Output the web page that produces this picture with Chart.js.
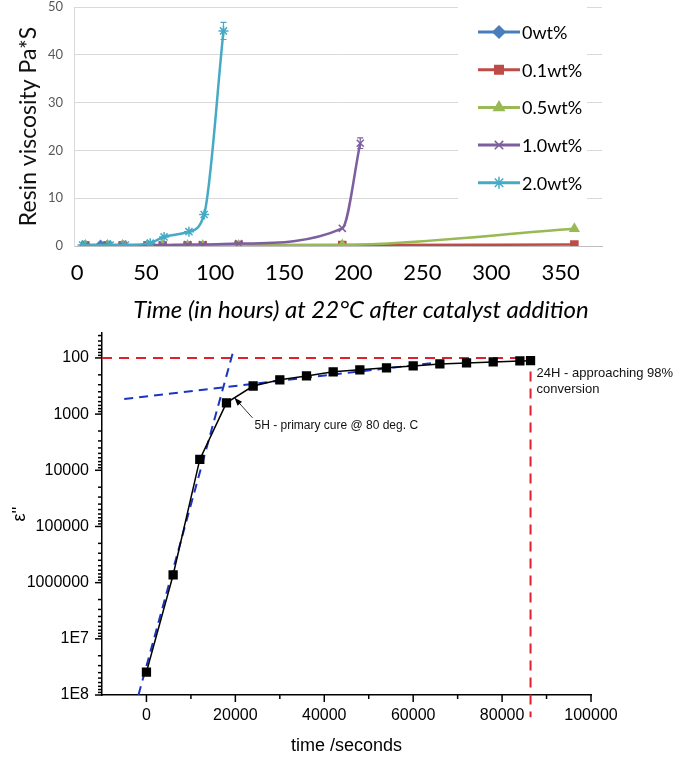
<!DOCTYPE html>
<html>
<head>
<meta charset="utf-8">
<script src="https://cdn.jsdelivr.net/npm/chart.js@4.4.0/dist/chart.umd.min.js"></script>
<style>
  body { margin: 0; background: #fff; }
  #wrap { position: relative; width: 675px; height: 757px; }
  canvas { position: absolute; left: 0; }
  #viscChart { top: 0; }
  #cureChart { top: 325px; }
</style>
</head>
<body>
<div id="wrap">
  <canvas id="viscChart" width="675" height="325"></canvas>
  <canvas id="cureChart" width="675" height="432"></canvas>
</div>
<script>
// ---- top chart: resin viscosity vs time ----
const seriesNames = ['0wt%', '0.1wt%', '0.5wt%', '1.0wt%', '2.0wt%'];
const seriesColors = ['#4a7ebb', '#be4b48', '#98b954', '#7d5fa0', '#46aac5'];
const seriesMarkers = ['rectRot', 'rect', 'triangle', 'crossRot', 'star'];

const hours0 = [6, 17, 22, 33, 51];
const visc0 = [0.1, 0.1, 0.1, 0.1, 0.1];
const hours01 = [6, 22, 33, 51, 62, 80, 91, 117, 192, 360];
const visc01 = [0.1, 0.1, 0.1, 0.1, 0.1, 0.1, 0.1, 0.2, 0.2, 0.3];
const hours05 = [6, 22, 33, 51, 62, 80, 91, 117, 192, 360];
const visc05 = [0.1, 0.1, 0.1, 0.1, 0.1, 0.1, 0.1, 0.1, 0.2, 3.6];
const hours10 = [6, 22, 33, 51, 62, 80, 91, 117, 192, 205];
const visc10 = [0.2, 0.2, 0.2, 0.2, 0.2, 0.3, 0.3, 0.5, 3.7, 21.5];
const err10 = [0, 0, 0, 0, 0, 0, 0, 0, 0, 1.1];
const hours20 = [4, 24, 35, 53, 63, 81, 92, 106];
const visc20 = [0.2, 0.2, 0.2, 0.6, 1.9, 3.0, 6.6, 45.0];
const err20 = [0, 0, 0, 0, 0, 0, 0, 1.8];

const hourTicks = [0, 50, 100, 150, 200, 250, 300, 350];
const viscTicks = [0, 10, 20, 30, 40, 50];

const allHours = [hours0, hours01, hours05, hours10, hours20];
const allVisc = [visc0, visc01, visc05, visc10, visc20];
const allErr = [null, null, null, err10, err20];

// ---- bottom chart: cure monitoring ----
const cureTime = [0, 6000, 12000, 18000, 24000, 30000, 36000, 42000, 48000, 54000, 60000, 66000, 72000, 78000, 84000, 86400];
const cureEps = [3.9e7, 7.3e5, 6.4e3, 630, 316, 245, 209, 177, 163, 150, 139, 128, 123, 118, 113, 112];
const fastFitTime = [-1800, 19600];
const fastFitEps = [1e8, 72];
const slowFitTime = [-5000, 64000];
const slowFitEps = [537, 124];
const markTime = [-10000, 86400, 86400];
const markEps = [100, 100, 2.5e8];

const timeTicks = [0, 20000, 40000, 60000, 80000, 100000];
const timeMinor = [10000, 30000, 50000, 70000, 90000];
const epsTicks = [100, 1000, 10000, 100000, 1000000, 1e7, 1e8];

const toPoints = (xs, ys) => xs.map((x, i) => ({ x: x, y: ys[i] }));

// keep tick label overflow from pushing the plot area around
const noScalePadding = s => { s.paddingTop = 0; s.paddingBottom = 0; s.paddingLeft = 0; s.paddingRight = 0; };

// error bars for the viscosity chart
const errorBars = {
    id: 'errorBars',
    afterDatasetsDraw(chart) {
        const { ctx, scales: { x, y } } = chart;
        chart.data.datasets.forEach(ds => {
            if (!ds.errorBars) return;
            ctx.save();
            ctx.strokeStyle = ds.borderColor;
            ctx.lineWidth = 1.2;
            ds.data.forEach((p, i) => {
                const e = ds.errorBars[i];
                if (!e) return;
                const px = x.getPixelForValue(p.x);
                const top = y.getPixelForValue(p.y + e);
                const bot = y.getPixelForValue(p.y - e);
                ctx.beginPath();
                ctx.moveTo(px, top); ctx.lineTo(px, bot);
                ctx.moveTo(px - 3, top); ctx.lineTo(px + 3, top);
                ctx.moveTo(px - 3, bot); ctx.lineTo(px + 3, bot);
                ctx.stroke();
            });
            ctx.restore();
        });
    }
};

// legend drawn over the plot, line + marker like the original
const lineLegend = {
    id: 'lineLegend',
    afterDraw(chart) {
        const ctx = chart.ctx;
        ctx.save();
        ctx.fillStyle = '#fff';
        ctx.fillRect(458, 0, 129, 210);
        chart.data.datasets.forEach((ds, i) => {
            const yy = 32 + i * 37.7;
            ctx.strokeStyle = ds.borderColor;
            ctx.lineWidth = 3;
            ctx.beginPath();
            ctx.moveTo(478, yy); ctx.lineTo(520, yy);
            ctx.stroke();
            ctx.fillStyle = ds.backgroundColor;
            ctx.lineWidth = 1.5;
            Chart.helpers.drawPoint(ctx, { pointStyle: ds.pointStyle, radius: 6, rotation: 0, borderWidth: 1.5 }, 499, yy);
            ctx.fillStyle = '#000';
            ctx.font = '18px Lato';
            ctx.textBaseline = 'middle';
            ctx.fillText(ds.label, 522, yy + 1);
        });
        ctx.restore();
    }
};

// x title sits a bit right of the axis centre in the original
const hourTitle = {
    id: 'hourTitle',
    afterDraw(chart) {
        const ctx = chart.ctx;
        ctx.save();
        ctx.fillStyle = '#000';
        ctx.font = 'italic 24px Lato';
        ctx.textAlign = 'center';
        ctx.textBaseline = 'middle';
        ctx.fillText('Time (in hours) at 22°C after catalyst addition', 361, 310);
        ctx.restore();
    }
};

new Chart(document.getElementById('viscChart'), {
    type: 'line',
    data: {
        datasets: seriesNames.map((name, i) => ({
            label: name,
            data: toPoints(allHours[i], allVisc[i]),
            errorBars: allErr[i],
            borderColor: seriesColors[i],
            backgroundColor: seriesColors[i],
            borderWidth: 2.5,
            pointStyle: seriesMarkers[i],
            pointRadius: 5,
            pointBorderWidth: 1.5,
            cubicInterpolationMode: 'monotone',
            order: 5 - i
        }))
    },
    options: {
        responsive: false,
        animation: false,
        layout: { padding: { top: 7, right: 73, left: 0, bottom: 0 } },
        plugins: { legend: { display: false }, tooltip: { enabled: false } },
        scales: {
            x: {
                type: 'linear',
                min: -2.2,
                max: 380,
                afterBuildTicks: s => { s.ticks = hourTicks.map(v => ({ value: v })); },
                afterFit: s => { s.height = 79; noScalePadding(s); },
                grid: { display: false, drawTicks: false },
                border: { color: '#bfbfbf', width: 1 },
                ticks: { font: { family: 'Lato', size: 22 }, color: '#000', padding: 14, maxRotation: 0, autoSkip: false },
                title: { display: false }
            },
            y: {
                min: 0,
                max: 50,
                afterBuildTicks: s => { s.ticks = viscTicks.map(v => ({ value: v })); },
                afterFit: s => { s.width = 74; noScalePadding(s); },
                grid: { color: '#d9d9d9', drawTicks: false },
                border: { color: '#d9d9d9' },
                ticks: { font: { family: 'Lato', size: 13 }, color: '#595959', padding: 11 },
                title: {
                    display: true,
                    text: 'Resin viscosity Pa*S',
                    font: { family: 'Lato', size: 23 },
                    color: '#111',
                    padding: { top: 15, bottom: 0 }
                }
            }
        }
    },
    plugins: [errorBars, lineLegend, hourTitle]
});

// tick marks (major + minor, outward) for the cure chart
const axisTicks = {
    id: 'axisTicks',
    afterDraw(chart) {
        const { ctx, scales: { x, y } } = chart;
        ctx.save();
        ctx.strokeStyle = '#000';
        ctx.lineWidth = 1.5;
        const vTick = (v, len) => {
            const px = x.getPixelForValue(v);
            ctx.beginPath(); ctx.moveTo(px, y.bottom); ctx.lineTo(px, y.bottom + len); ctx.stroke();
        };
        const hTick = (v, len) => {
            const py = y.getPixelForValue(v);
            if (py < y.top - 0.5 || py > y.bottom + 0.5) return;
            ctx.beginPath(); ctx.moveTo(x.left, py); ctx.lineTo(x.left - len, py); ctx.stroke();
        };
        timeTicks.forEach(v => vTick(v, 7));
        timeMinor.forEach(v => vTick(v, 4));
        epsTicks.forEach(v => hTick(v, 7));
        for (let d = 10; d < 1e8; d *= 10) {
            for (let k = 2; k <= 9; k++) hTick(k * d, 4);
        }
        ctx.restore();
    }
};

// text annotations with arrow
const cureNotes = {
    id: 'cureNotes',
    afterDraw(chart) {
        const ctx = chart.ctx;
        const pts = chart.getDatasetMeta(0).data;
        const p5h = pts[3], pNext = pts[4], p24h = pts[pts.length - 1];
        ctx.save();
        ctx.strokeStyle = '#333';
        ctx.textBaseline = 'middle';
        // 5H note
        const tipX = p5h.x + 0.3 * (pNext.x - p5h.x);
        const tipY = p5h.y + 0.3 * (pNext.y - p5h.y);
        const tailX = p5h.x + 26, tailY = p5h.y + 15;
        ctx.lineWidth = 1;
        ctx.beginPath(); ctx.moveTo(tailX, tailY); ctx.lineTo(tipX, tipY); ctx.stroke();
        const ang = Math.atan2(tipY - tailY, tipX - tailX);
        ctx.beginPath();
        ctx.moveTo(tipX, tipY);
        ctx.lineTo(tipX - 8 * Math.cos(ang) + 3 * Math.sin(ang), tipY - 8 * Math.sin(ang) - 3 * Math.cos(ang));
        ctx.lineTo(tipX - 8 * Math.cos(ang) - 3 * Math.sin(ang), tipY - 8 * Math.sin(ang) + 3 * Math.cos(ang));
        ctx.closePath();
        ctx.fillStyle = '#000';
        ctx.fill();
        ctx.fillStyle = '#111';
        ctx.font = '12px "Liberation Sans"';
        ctx.fillText('5H - primary cure @ 80 deg. C', p5h.x + 28, p5h.y + 23);
        // 24H note
        ctx.font = '13px "Liberation Sans"';
        ctx.fillText('24H - approaching 98%', p24h.x + 6, p24h.y + 13);
        ctx.fillText('conversion', p24h.x + 6, p24h.y + 29);
        ctx.restore();
    }
};

new Chart(document.getElementById('cureChart'), {
    type: 'line',
    data: {
        datasets: [
            {
                data: toPoints(cureTime, cureEps),
                borderColor: '#000',
                backgroundColor: '#000',
                borderWidth: 1.5,
                pointStyle: 'rect',
                pointRadius: 5.5,
                order: 0
            },
            {
                data: toPoints(fastFitTime, fastFitEps),
                borderColor: '#1c35c0',
                borderWidth: 2,
                borderDash: [9, 6],
                pointRadius: 0,
                order: 1
            },
            {
                data: toPoints(slowFitTime, slowFitEps),
                borderColor: '#1c35c0',
                borderWidth: 2,
                borderDash: [9, 6],
                pointRadius: 0,
                order: 2
            },
            {
                data: toPoints(markTime, markEps),
                borderColor: '#e0202a',
                borderWidth: 2,
                borderDash: [10, 7],
                pointRadius: 0,
                clip: false,
                order: 3
            }
        ]
    },
    options: {
        responsive: false,
        animation: false,
        layout: { padding: { top: 8, right: 84, left: 0, bottom: 0 } },
        plugins: { legend: { display: false }, tooltip: { enabled: false } },
        scales: {
            x: {
                type: 'linear',
                min: -10000,
                max: 100000,
                afterBuildTicks: s => { s.ticks = timeTicks.map(v => ({ value: v })); },
                afterFit: s => { s.height = 62; noScalePadding(s); },
                grid: { display: false, drawTicks: false },
                border: { color: '#000', width: 1.5 },
                ticks: {
                    font: { family: 'Liberation Sans', size: 16 },
                    color: '#000',
                    padding: 11,
                    maxRotation: 0,
                    autoSkip: false,
                    callback: v => String(v)
                },
                title: {
                    display: true,
                    text: 'time /seconds',
                    font: { family: 'Liberation Sans', size: 18 },
                    color: '#000',
                    padding: { top: 0, bottom: 0 }
                }
            },
            y: {
                type: 'logarithmic',
                min: 36,
                max: 1e8,
                reverse: true,
                afterBuildTicks: s => { s.ticks = epsTicks.map(v => ({ value: v })); },
                afterFit: s => { s.width = 102; noScalePadding(s); },
                grid: { display: false, drawTicks: false },
                border: { color: '#000', width: 1.5 },
                ticks: {
                    font: { family: 'Liberation Sans', size: 16 },
                    color: '#000',
                    padding: 13,
                    autoSkip: false,
                    callback: v => v >= 1e7 ? '1E' + Math.round(Math.log10(v)) : String(v)
                },
                title: {
                    display: true,
                    text: "ε''",
                    font: { family: 'Liberation Sans', size: 18 },
                    color: '#000',
                    padding: { top: 9, bottom: 0 }
                }
            }
        }
    },
    plugins: [axisTicks, cureNotes]
});
</script>
</body>
</html>
